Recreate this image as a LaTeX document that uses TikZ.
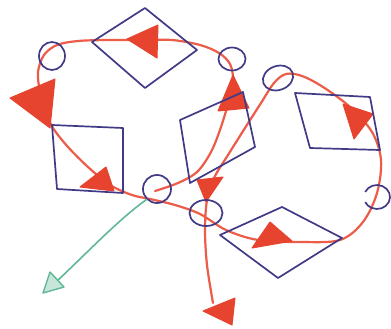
\documentclass[tikz,border=0pt]{standalone}
\usetikzlibrary{shapes.geometric}
\definecolor{inkblue}{RGB}{65,58,135}
\definecolor{inkred}{RGB}{236,92,72}
\definecolor{inkredfill}{RGB}{230,68,46}
\definecolor{inkgreen}{RGB}{96,184,150}
\begin{document}
\begin{tikzpicture}[x=1pt,y=-1pt,
  quad/.style={draw=inkblue, line width=1.7pt, line join=round},
  ring/.style={ellipse, draw=inkblue, line width=1.7pt, inner sep=0pt},
  redline/.style={draw=inkred, line width=2.2pt, line cap=round},
  head/.style={fill=inkredfill, draw=inkredfill, line width=1pt, line join=round},
  greenline/.style={draw=inkgreen, line width=1.6pt, line cap=round}]
\useasboundingbox (0,0) rectangle (391,329);
\fill[white] (0,0) rectangle (391,329);

% red loop
\coordinate (p0) at (155,191);
\coordinate (pend) at (213,303);
\draw[redline] plot[smooth, tension=0.55] coordinates {(p0) (178,183) (197,172) (211,152) (221,127) (229,100) (233,80) (230,64) (219,53) (200,45) (172,40) (140,40) (108,40) (78,41) (57,45) (44,55) (38,72) (40,92) (45,110) (53,128) (68,147) (88,167) (110,185) (132,195) (150,199) (175,205) (200,214) (226,230) (258,240) (300,242) (340,240) (363,222) (377,193) (381,160) (372,132) (350,107) (323,87) (302,76) (286,74) (274,83) (261,103) (245,128) (228,155) (214,178) (207,200) (205,230) (207,265) (pend)};

% red arrowheads
\filldraw[head] (127,39) -- (158,25) -- (157,58) -- cycle;
\filldraw[head] (10,98) -- (55,79) -- (50,128) -- cycle;
\filldraw[head] (80,187) -- (106,167) -- (114,191) -- cycle;
\filldraw[head] (252,248) -- (270,222) -- (292,241) -- cycle;
\filldraw[head] (343,104) -- (373,114) -- (354,139) -- cycle;
\filldraw[head] (233,75) -- (218,111) -- (249,108) -- cycle;
\filldraw[head] (197,180) -- (223,177) -- (206,202) -- cycle;
\filldraw[head] (203,311) -- (235,298) -- (232,325) -- cycle;

% blue shapes
\draw[quad] (92,42) -- (145,8) -- (197,50) -- (145,88) -- cycle;
\draw[quad] (52,125) -- (123,128) -- (123,193) -- (57,189) -- cycle;
\draw[quad] (180,120) -- (243,92) -- (255,147) -- (190,183) -- cycle;
\draw[quad] (295,93) -- (370,97) -- (380,150) -- (310,148) -- cycle;
\draw[quad] (220,235) -- (282,207) -- (342,238) -- (278,278) -- cycle;

% circles
\node[ring, minimum width=26pt, minimum height=28pt] (c1) at (52,56) {};
\node[ring, minimum width=27pt, minimum height=23pt] (c2) at (232,59) {};
\node[ring, minimum width=31pt, minimum height=24pt, rotate=20] (c3) at (278,78) {};
\node[ring, minimum width=28pt, minimum height=28pt] (c4) at (157,189) {};
\node[ring, minimum width=33pt, minimum height=26pt] (c5) at (206,213) {};
\coordinate (c6) at (377,197);
\draw[quad] (c6) ++(205:13 and 12) arc[start angle=205, end angle=515, x radius=13, y radius=12];

% green arrow
\coordinate (gbase) at (57,281);
\draw[greenline] (c4.south west) .. controls (118,220) and (88,252) .. (gbase);
\filldraw[draw=inkgreen, fill=inkgreen!35, line width=1.4pt, line join=round] (43,293) -- (50,272) -- (64,287) -- cycle;
\end{tikzpicture}
\end{document}
